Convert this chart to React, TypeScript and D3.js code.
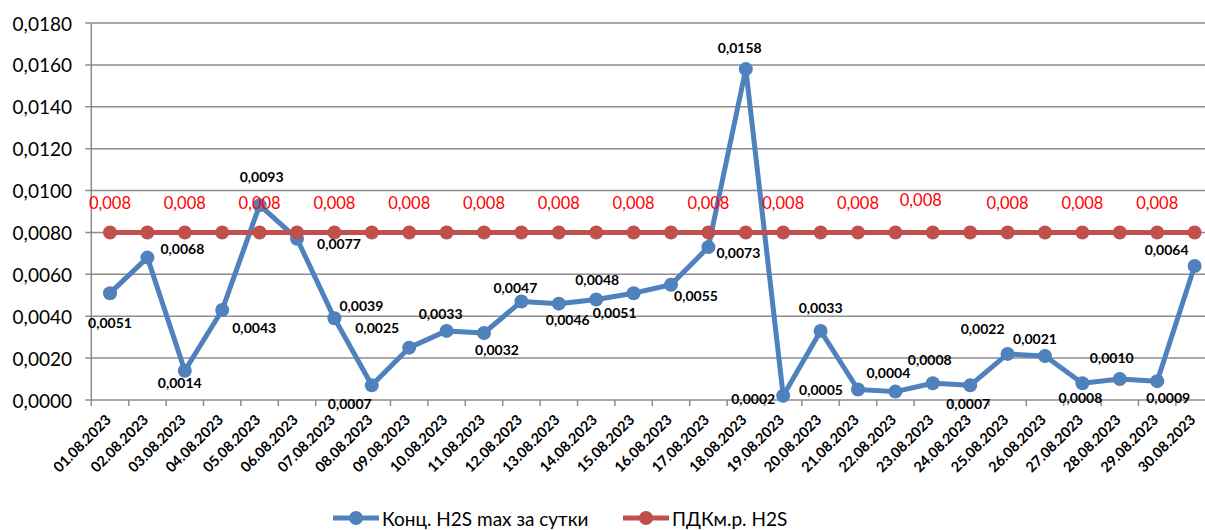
import React from "react";
import * as d3 from "d3";

const dates = [
  "01.08.2023", "02.08.2023", "03.08.2023", "04.08.2023", "05.08.2023",
  "06.08.2023", "07.08.2023", "08.08.2023", "09.08.2023", "10.08.2023",
  "11.08.2023", "12.08.2023", "13.08.2023", "14.08.2023", "15.08.2023",
  "16.08.2023", "17.08.2023", "18.08.2023", "19.08.2023", "20.08.2023",
  "21.08.2023", "22.08.2023", "23.08.2023", "24.08.2023", "25.08.2023",
  "26.08.2023", "27.08.2023", "28.08.2023", "29.08.2023", "30.08.2023",
];

// Конц. H2S max за сутки
const h2sMax = [
  0.0051, 0.0068, 0.0014, 0.0043, 0.0093, 0.0077, 0.0039, 0.0007, 0.0025, 0.0033,
  0.0032, 0.0047, 0.0046, 0.0048, 0.0051, 0.0055, 0.0073, 0.0158, 0.0002, 0.0033,
  0.0005, 0.0004, 0.0008, 0.0007, 0.0022, 0.0021, 0.0008, 0.0010, 0.0009, 0.0064,
];

// ПДКм.р. H2S
const pdk = dates.map(() => 0.008);

const yTicks = [0, 0.002, 0.004, 0.006, 0.008, 0.01, 0.012, 0.014, 0.016, 0.018];

const seriesNames = ["Конц. H2S max за сутки", "ПДКм.р. H2S"];

// label placement (dx, dy from point), as dragged around in the original
const blueLabelOffsets: [number, number][] = [
  [0, 29], [35, -9], [-5, 12], [32, 18], [2, -29], [42, 5], [27, -13], [-22, 18],
  [-32, -20], [-6, -17], [13, 17], [-6, -14], [9, 16], [1, -20], [-19, 19],
  [25, 11], [30, 5], [-6, -22], [-30, 3], [0, -23], [-37, 0], [-7, -19],
  [-3, -24], [-2, 18], [-25, -25], [-10, -18], [-2, 14], [-8, -22], [11, 16],
  [-28, -16],
];

const BLUE = "#4F81BD";
const RED = "#C0504D";
const GRID = "#8c8c8c";
const FONT = "Lato, 'Open Sans', sans-serif";

const fmt = (v: number, digits: number) => d3.format(`.${digits}f`)(v).replace(".", ",");

export default function App() {
  const width = 1205;
  const height = 530;
  const left = 91.3;
  const step = 37.4;

  const x = d3
    .scaleBand<string>()
    .domain(dates)
    .range([left, left + step * dates.length]);
  const cx = (d: string) => (x(d) ?? 0) + x.bandwidth() / 2;

  const y = d3.scaleLinear().domain([0, 0.018]).range([400, 23]);

  const line = d3
    .line<number>()
    .x((_, i) => cx(dates[i]))
    .y((v) => y(v));

  const bottom = y(0);

  return (
    <svg
      width={width}
      height={height}
      style={{ position: "absolute", left: 0, top: 0, background: "#fff" }}
      fontFamily={FONT}
    >
      {/* grid */}
      {yTicks.map((t) => (
        <g key={`y-${t}`}>
          <line x1={left - 6} x2={width} y1={y(t)} y2={y(t)} stroke={GRID} strokeWidth={1.5} />
          <text
            x={72}
            y={y(t)}
            textAnchor="end"
            dominantBaseline="central"
            fontSize={19}
            fill="#000"
          >
            {fmt(t, 4)}
          </text>
        </g>
      ))}

      {/* axes */}
      <line x1={left} x2={left} y1={y(0.018)} y2={bottom} stroke={GRID} strokeWidth={1.5} />
      {dates.map((d) => (
        <line
          key={`xt-${d}`}
          x1={x(d)! + x.bandwidth()}
          x2={x(d)! + x.bandwidth()}
          y1={bottom}
          y2={bottom + 6}
          stroke={GRID}
          strokeWidth={1.5}
        />
      ))}
      <line x1={left} x2={left} y1={bottom} y2={bottom + 6} stroke={GRID} strokeWidth={1.5} />

      {/* x labels */}
      {dates.map((d) => (
        <text
          key={`xl-${d}`}
          transform={`translate(${cx(d) - 2}, ${bottom + 17}) rotate(-45)`}
          textAnchor="end"
          dominantBaseline="central"
          fontSize={14.5}
          fontWeight="bold"
          fill="#000"
        >
          {d}
        </text>
      ))}

      {/* blue series */}
      <path d={line(h2sMax) ?? ""} fill="none" stroke={BLUE} strokeWidth={5} strokeLinejoin="round" />
      {h2sMax.map((v, i) => (
        <circle key={`b-${i}`} cx={cx(dates[i])} cy={y(v)} r={7} fill={BLUE} />
      ))}

      {/* red series */}
      <path d={line(pdk) ?? ""} fill="none" stroke={RED} strokeWidth={5} />
      {pdk.map((v, i) => (
        <circle key={`r-${i}`} cx={cx(dates[i])} cy={y(v)} r={7} fill={RED} />
      ))}

      {/* blue labels */}
      {h2sMax.map((v, i) => (
        <text
          key={`bl-${i}`}
          x={cx(dates[i]) + blueLabelOffsets[i][0]}
          y={y(v) + blueLabelOffsets[i][1]}
          textAnchor="middle"
          dominantBaseline="central"
          fontSize={14}
          fontWeight="bold"
          fill="#000"
        >
          {fmt(v, 4)}
        </text>
      ))}

      {/* red labels, every other point */}
      {pdk.map((v, i) =>
        i % 2 === 0 ? (
          <text
            key={`rl-${i}`}
            x={cx(dates[i]) + (i === 22 ? -12 : 0)}
            y={y(v) - (i === 22 ? 32 : 29)}
            textAnchor="middle"
            dominantBaseline="central"
            fontSize={16.5}
            fill="#FF0000"
          >
            {fmt(v, 3)}
          </text>
        ) : null
      )}

      {/* legend */}
      {[
        { name: seriesNames[0], color: BLUE, x0: 333 },
        { name: seriesNames[1], color: RED, x0: 623 },
      ].map((s) => (
        <g key={s.name} transform={`translate(${s.x0}, 518)`}>
          <line x1={0} x2={46} y1={0} y2={0} stroke={s.color} strokeWidth={5} />
          <circle cx={23} cy={0} r={7} fill={s.color} />
          <text x={49} y={0} dominantBaseline="central" fontSize={19} fill="#000">
            {s.name}
          </text>
        </g>
      ))}
    </svg>
  );
}
